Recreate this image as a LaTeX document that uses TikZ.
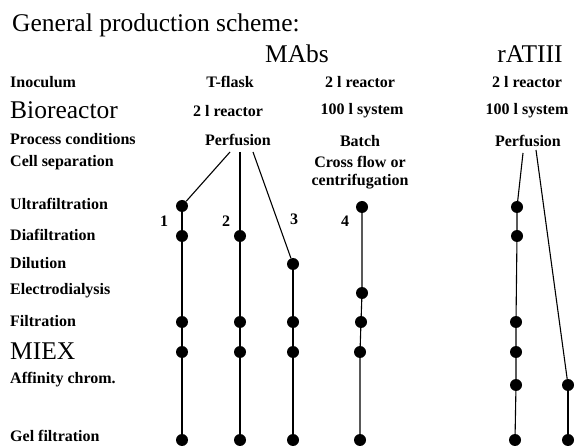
\documentclass[tikz,border=0pt]{standalone}
\usepackage{fontspec}
\setmainfont{Liberation Serif}
\begin{document}
\begin{tikzpicture}[x=1pt,y=-1pt,
  dot/.style={circle,fill,inner sep=0pt,minimum size=12pt},
  rowlabel/.style={anchor=west,inner sep=0pt,font=\fontsize{16}{18}\selectfont\bfseries},
  bigrow/.style={anchor=west,inner sep=0pt,font=\fontsize{25.5}{30}\selectfont},
  coltext/.style={inner sep=0pt,font=\fontsize{16}{18}\selectfont\bfseries},
  head/.style={inner sep=0pt,font=\fontsize{25.5}{30}\selectfont},
  conn/.style={line width=1.1pt}]

\useasboundingbox (0,0) rectangle (576,446);

% Title and product headers
\node [head,anchor=west] (title) at (12,25) {General production scheme:};
\node [head] (mabs) at (297,54) {MAbs};
\node [head] (ratiii) at (530,54) {rATIII};

% Row labels
\node [rowlabel] (inoc) at (10,82) {Inoculum};
\node [bigrow] (bior) at (10,110) {Bioreactor};
\node [rowlabel] (proc) at (10,139) {Process conditions};
\node [rowlabel] (cell) at (10,163) {Cell separation};
\node [rowlabel] (ultra) at (10,204) {Ultrafiltration};
\node [rowlabel] (dia) at (10,235) {Diafiltration};
\node [rowlabel] (dil) at (10,263) {Dilution};
\node [rowlabel] (elec) at (10,291) {Electrodialysis};
\node [rowlabel] (filt) at (10,321) {Filtration};
\node [bigrow] (miex) at (10,351) {MIEX};
\node [rowlabel] (aff) at (10,380) {Affinity chrom.};
\node [rowlabel] (gel) at (10,436) {Gel filtration};

% Column entries, MAbs
\node [coltext] (tflask) at (230,82) {T-flask};
\node [coltext] (reacA) at (228,111) {2 l reactor};
\node [coltext] (perfA) at (238,140) {Perfusion};

\node [coltext] (reacB) at (360,82) {2 l reactor};
\node [coltext] (sysB) at (362,111) {100 l system};
\node [coltext] (batch) at (360,141) {Batch};
\node [coltext] (cross) at (360,162) {Cross flow or};
\node [coltext] (centr) at (360,182) {centrifugation};

% Column entries, rATIII
\node [coltext] (reacC) at (527,82) {2 l reactor};
\node [coltext] (sysC) at (527,111) {100 l system};
\node [coltext] (perfC) at (528,141) {Perfusion};

% Route numbers
\node [coltext] (n1) at (164,221) {1};
\node [coltext] (n2) at (226,221) {2};
\node [coltext] (n3) at (294,219) {3};
\node [coltext] (n4) at (345,221) {4};

% Start points under Perfusion
\coordinate (pa1) at (230,152);
\coordinate (pa2) at (240,152);
\coordinate (pa3) at (253,152);
\coordinate (pc1) at (523,153);
\coordinate (pc2) at (536,150);

% Process steps, route 1
\node [dot] (u1) at (182,206) {};
\node [dot] (d1) at (182,236) {};
\node [dot] (f1) at (182,322) {};
\node [dot] (m1) at (182,352) {};
\node [dot] (g1) at (182,440) {};

% route 2
\node [dot] (d2) at (240,236) {};
\node [dot] (f2) at (240,322) {};
\node [dot] (m2) at (240,352) {};
\node [dot] (g2) at (240,440) {};

% route 3
\node [dot] (l3) at (293,264) {};
\node [dot] (f3) at (293,322) {};
\node [dot] (m3) at (293,352) {};
\node [dot] (g3) at (293,440) {};

% route 4
\node [dot] (u4) at (362,207) {};
\node [dot] (e4) at (362,293) {};
\node [dot] (f4) at (361,322) {};
\node [dot] (m4) at (360,352) {};
\node [dot] (g4) at (360,440) {};

% rATIII routes
\node [dot] (u5) at (517,207) {};
\node [dot] (d5) at (517,236) {};
\node [dot] (f5) at (516,322) {};
\node [dot] (m5) at (516,352) {};
\node [dot] (a5) at (516,385) {};
\node [dot] (g5) at (515,440) {};

\node [dot] (a6) at (568,385) {};
\node [dot] (g6) at (568,440) {};

% Connections
\draw [conn] (pa1) -- (u1);
\draw [conn] (pa2) -- (d2);
\draw [conn] (pa3) -- (l3);
\draw [conn] (pc1) -- (u5);
\draw [conn] (pc2) -- (a6);

\draw [conn] (u1) -- (d1) -- (f1) -- (m1) -- (g1);
\draw [conn] (d2) -- (f2) -- (m2) -- (g2);
\draw [conn] (l3) -- (f3) -- (m3) -- (g3);
\draw [conn] (u4) -- (e4) -- (f4) -- (m4) -- (g4);
\draw [conn] (u5) -- (d5) -- (f5) -- (m5) -- (a5) -- (g5);
\draw [conn] (a6) -- (g6);
\end{tikzpicture}
\end{document}
